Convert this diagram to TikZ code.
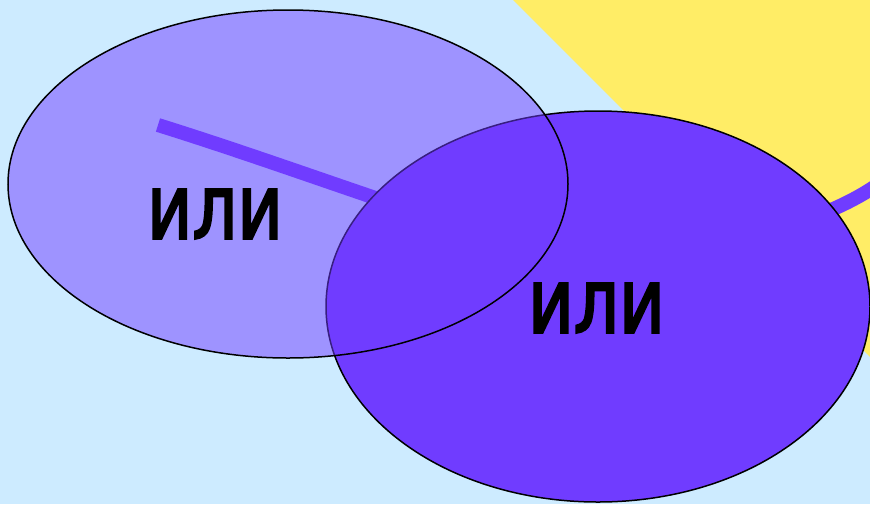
\documentclass[tikz,border=0pt]{standalone}
\usepackage{fontspec}
\usepackage{graphicx}
\setmainfont{DejaVu Sans}
\newfontfamily\wordfont[FakeBold=3]{DejaVu Sans}
\usetikzlibrary{shapes.geometric}
\definecolor{bgblue}{HTML}{CDEBFF}
\definecolor{sunyellow}{HTML}{FFED66}
\definecolor{violet}{HTML}{703CFF}
\tikzset{
  blob/.style={ellipse, draw=black, line width=1.5pt, inner sep=0pt, outer sep=0pt},
  word/.style={inner sep=0pt, text=black},
  stripe/.style={draw=violet, line width=14pt, line cap=butt}
}
\begin{document}
\begin{tikzpicture}[x=1pt,y=-1pt]
  \fill[bgblue] (0,0) rectangle (870,504);
  \useasboundingbox (0,0) rectangle (870,504);
  \fill[sunyellow] (513,0) -- (870,0) -- (870,357) -- cycle;
  \coordinate (s0) at (158,125);
  \coordinate (s1) at (480,232);
  \coordinate (s2) at (890,175);
  \draw[stripe] (s0) .. controls (270,160) and (390,205) .. (s1)
                     .. controls (630,277) and (820,235) .. (s2);
  \node[blob, fill=violet, minimum width=544pt, minimum height=391pt] (right) at (598,306.5) {};
  \node[blob, fill=violet, fill opacity=0.5, minimum width=560pt, minimum height=348pt] (left) at (288,184) {};
  \node[word] (orleft) at (215,214) {\resizebox{136pt}{49pt}{\wordfont или}};
  \node[word] (orright) at (596.5,308) {\resizebox{137pt}{49pt}{\wordfont или}};
\end{tikzpicture}
\end{document}
